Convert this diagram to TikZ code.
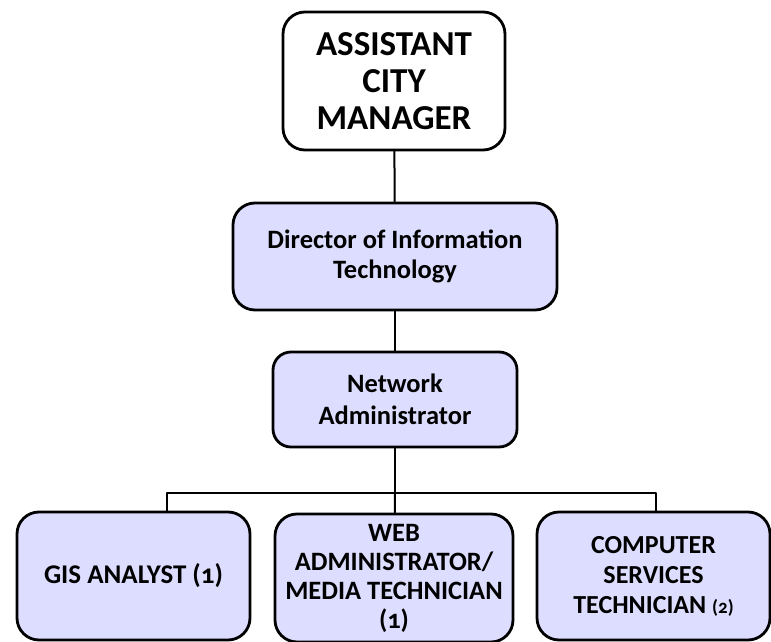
\documentclass[tikz,border=0pt]{standalone}
\usepackage{fontspec}
\setmainfont{Carlito}[Numbers=OldStyle]
\definecolor{boxfill}{RGB}{221,221,255}

\begin{document}
\begin{tikzpicture}[x=1pt,y=-1pt,line cap=round,line join=round,
  box/.style={draw,line width=2.8pt,rounded corners=22pt,fill=boxfill,
    align=center,font=\bfseries,inner sep=0pt},
  link/.style={line width=2pt}]
  \useasboundingbox (0,0) rectangle (771,642);
  % boxes
  \node[box,fill=white,minimum width=222pt,minimum height=138pt,
    font=\bfseries\fontsize{35}{37}\selectfont] (acm) at (394,81)
    {ASSISTANT\\CITY\\MANAGER};
  \node[box,minimum width=324pt,minimum height=107pt,
    font=\bfseries\fontsize{26.5}{30}\selectfont] (dit) at (395,256.5)
    {Director of Information\\Technology};
  \node[box,rounded corners=18pt,minimum width=244pt,minimum height=95pt,
    font=\bfseries\fontsize{26.5}{32}\selectfont] (net) at (395,399.5)
    {Network\\Administrator};
  \node[box,minimum width=233pt,minimum height=128pt,
    font=\bfseries\fontsize{27}{29}\selectfont] (gis) at (133.5,576)
    {GIS ANALYST (1)};
  \node[box,minimum width=238pt,minimum height=128pt,
    font=\bfseries\fontsize{26.5}{29}\selectfont] (web) at (394,578)
    {WEB\\ADMINISTRATOR/\\MEDIA TECHNICIAN\\(1)};
  \node[box,minimum width=233pt,minimum height=128pt,
    font=\bfseries\fontsize{26}{30}\selectfont] (cst) at (653.5,576)
    {COMPUTER\\SERVICES\\TECHNICIAN {\fontsize{19}{30}\selectfont(2)}};
  % connectors
  \coordinate (busL) at (167,493);
  \coordinate (busM) at (395,493);
  \coordinate (busR) at (656,493);
  \draw[link] (acm) -- (dit);
  \draw[link] (dit) -- (net);
  \draw[link] (net) -- (busM);
  \draw[link] (busL |- gis.north) -- (busL) -- (busR) -- (busR |- cst.north);
  \draw[link] (busM) -- (web);
\end{tikzpicture}
\end{document}
